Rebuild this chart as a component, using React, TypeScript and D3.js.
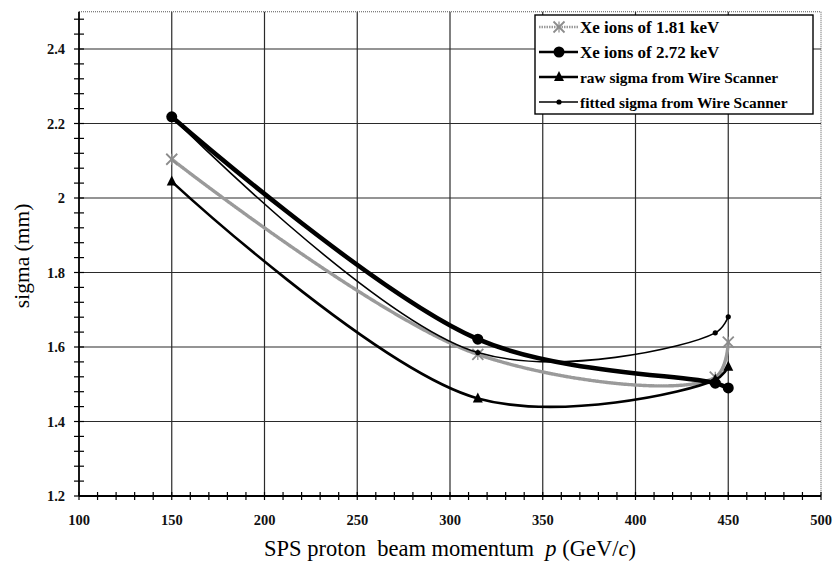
import React from "react";
import * as d3 from "d3";

// Beam momentum (GeV/c) at which each series was measured
const momenta = [150, 315, 443, 450];

// sigma (mm) per series
const xe181 = [2.104, 1.58, 1.519, 1.613];
const xe272 = [2.218, 1.621, 1.503, 1.49];
const rawSigma = [2.044, 1.462, 1.512, 1.547];
const fittedSigma = [2.218, 1.585, 1.638, 1.681];

const seriesNames = [
  "Xe ions of 1.81 keV",
  "Xe ions of 2.72 keV",
  "raw sigma from Wire Scanner",
  "fitted sigma from Wire Scanner",
];

const xTicks = [100, 150, 200, 250, 300, 350, 400, 450, 500];
const yTicks = [1.2, 1.4, 1.6, 1.8, 2.0, 2.2, 2.4];

const W = 836;
const H = 562;
const FONT = "'Liberation Serif', 'Times New Roman', serif";

const x = d3.scaleLinear().domain([100, 500]).range([79, 821]);
const y = d3.scaleLinear().domain([1.2, 2.5]).range([496, 11.75]);

const line = d3
  .line<[number, number]>()
  .x((d) => x(d[0]))
  .y((d) => y(d[1]))
  .curve(d3.curveCatmullRom.alpha(0.5));

const pts = (vals: number[]) => momenta.map((m, i) => [m, vals[i]] as [number, number]);

type Kind = "cross" | "circle" | "triangle" | "dot";

function Marker({ cx, cy, kind }: { cx: number; cy: number; kind: Kind }) {
  if (kind === "cross") {
    const s = 5.5;
    return (
      <g stroke="#8c8c8c" strokeWidth={1.8}>
        <line x1={cx - s} y1={cy - s} x2={cx + s} y2={cy + s} />
        <line x1={cx - s} y1={cy + s} x2={cx + s} y2={cy - s} />
        <line x1={cx} y1={cy - s} x2={cx} y2={cy + s} strokeWidth={1.2} />
      </g>
    );
  }
  if (kind === "circle") return <circle cx={cx} cy={cy} r={5.5} fill="#000" />;
  if (kind === "dot") return <circle cx={cx} cy={cy} r={2.6} fill="#000" />;
  const s = 5;
  return (
    <path
      d={`M${cx},${cy - s - 1}L${cx + s},${cy + s - 1}L${cx - s},${cy + s - 1}Z`}
      fill="#000"
    />
  );
}

const series: { vals: number[]; kind: Kind; stroke: string; width: number; dash?: string; font: number }[] = [
  { vals: xe181, kind: "cross", stroke: "#9a9a9a", width: 3.4, dash: "1.5 1", font: 17 },
  { vals: xe272, kind: "circle", stroke: "#000", width: 4.5, font: 17 },
  { vals: rawSigma, kind: "triangle", stroke: "#000", width: 2.6, font: 15.4 },
  { vals: fittedSigma, kind: "dot", stroke: "#000", width: 1.6, font: 15.4 },
];

export default function App() {
  const [x0, x1] = x.range();
  const [yb, yt] = y.range();
  const xMinor = d3.range(100, 501, 10);
  const yMinor = d3.range(1.2, 2.5001, 0.04);

  const legX = 535;
  const legY = 15;
  const legW = 278;
  const legH = 99;

  return (
    <svg width={W} height={H} style={{ display: "block", position: "absolute", left: 0, top: 0, background: "#fff" }}>
      <rect width={W} height={H} fill="#fff" />

      {/* grid */}
      {xTicks.slice(1, -1).map((t) => (
        <line key={"gx" + t} x1={x(t)} x2={x(t)} y1={yt} y2={yb} stroke="#2a2a2a" strokeWidth={1.2} />
      ))}
      {yTicks.slice(1).map((t) => (
        <line key={"gy" + t} x1={x0} x2={x1} y1={y(t)} y2={y(t)} stroke="#2a2a2a" strokeWidth={1.2} />
      ))}

      {/* dotted top and right frame */}
      <line x1={x0} x2={x1} y1={yt} y2={yt} stroke="#555" strokeWidth={1} strokeDasharray="1 1" />
      <line x1={x1} x2={x1} y1={yt} y2={yb} stroke="#555" strokeWidth={1} strokeDasharray="1 1" />

      {/* axes */}
      <line x1={x0} x2={x1} y1={yb} y2={yb} stroke="#000" strokeWidth={1.8} />
      <line x1={x0} x2={x0} y1={yt} y2={yb} stroke="#000" strokeWidth={1.8} />
      {xMinor.map((t) => (
        <line key={"xm" + t} x1={x(t)} x2={x(t)} y1={yb - 4} y2={yb + 4} stroke="#000" strokeWidth={1.2} />
      ))}
      {yMinor.map((t, i) => (
        <line key={"ym" + i} x1={x0 - 5} x2={x0 + 5} y1={y(t)} y2={y(t)} stroke="#000" strokeWidth={1.2} />
      ))}

      {/* tick labels */}
      {xTicks.map((t) => (
        <text key={"xl" + t} x={x(t)} y={yb + 29} textAnchor="middle" fontFamily={FONT} fontSize={14.5} fontWeight="bold" fill="#111">
          {t}
        </text>
      ))}
      {yTicks.map((t) => (
        <text key={"yl" + t} x={x0 - 14} y={y(t) + 5} textAnchor="end" fontFamily={FONT} fontSize={14.5} fontWeight="bold" fill="#111">
          {d3.format("~g")(t)}
        </text>
      ))}

      {/* axis titles */}
      <text x={450} y={556} textAnchor="middle" fontFamily={FONT} fontSize={22.5} fill="#000">
        SPS proton{"\u00a0\u00a0"}beam momentum{"\u00a0\u00a0"}
        <tspan fontStyle="italic">p</tspan> (GeV/<tspan fontStyle="italic">c</tspan>)
      </text>
      <text
        transform={`translate(29, ${(yt + yb) / 2 + 2}) rotate(-90)`}
        textAnchor="middle"
        fontFamily={FONT}
        fontSize={21.5}
        fill="#000"
      >
        sigma (mm)
      </text>

      {/* series */}
      {series.map((s, i) => (
        <g key={"s" + i}>
          <path d={line(pts(s.vals)) || ""} fill="none" stroke={s.stroke} strokeWidth={s.width} strokeDasharray={s.dash} strokeLinecap="round" />
          {pts(s.vals).map(([m, v], j) => (
            <Marker key={j} cx={x(m)} cy={y(v)} kind={s.kind} />
          ))}
        </g>
      ))}

      {/* legend */}
      <rect x={legX} y={legY} width={legW} height={legH} fill="#fff" stroke="#000" strokeWidth={1.4} />
      {series.map((s, i) => {
        const ry = legY + 12 + i * 25;
        return (
          <g key={"lg" + i}>
            <line x1={legX + 4} x2={legX + 43} y1={ry} y2={ry} stroke={s.stroke} strokeWidth={Math.min(s.width, 2.4)} strokeDasharray={s.dash} />
            <Marker cx={legX + 24} cy={ry} kind={s.kind} />
            <text x={legX + 45} y={ry + 5.5} fontFamily={FONT} fontSize={s.font} fontWeight="bold" fill="#000">
              {seriesNames[i]}
            </text>
          </g>
        );
      })}
    </svg>
  );
}
